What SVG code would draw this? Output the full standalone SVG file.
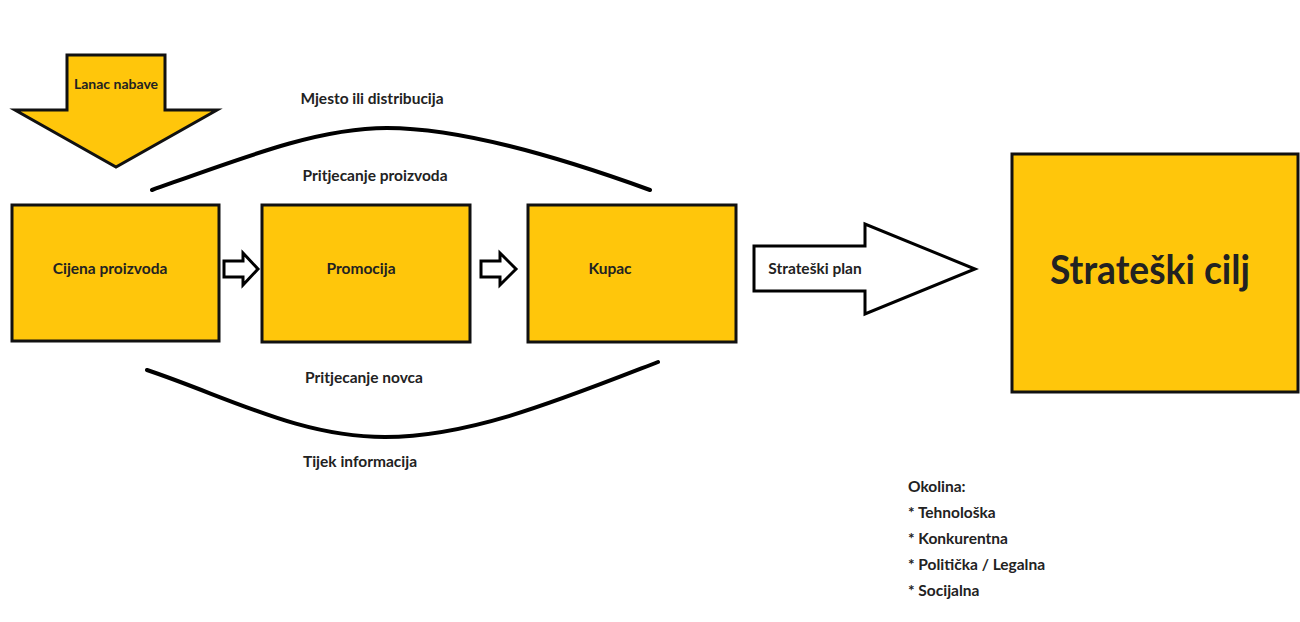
<svg xmlns="http://www.w3.org/2000/svg" width="1300" height="622" viewBox="0 0 1300 622">
<style>
.box{fill:#FFC60B;stroke:#111;stroke-width:3}
.t{font-family:Lato,"Open Sans","Liberation Sans",sans-serif;font-weight:bold;fill:#222;font-size:15.5px}
.c{text-anchor:middle}
.curve{fill:none;stroke:#000;stroke-width:4;stroke-linecap:round}
.hollow{fill:#fff;stroke:#000;stroke-width:3;stroke-linejoin:miter}
</style>
<rect width="1300" height="622" fill="#fff"/>
<g id="lanac-nabave">
<polygon points="67,55 165,55 165,110 217,110 116,167 15,110 67,110" fill="#FFC60B" stroke="#111" stroke-width="3"/>
<text class="t c" x="116" y="89" style="font-size:14px">Lanac nabave</text>
</g>
<g id="connectors">
<path class="curve" d="M152,190 C250,155 320,128 387,128 C450,128 540,150 650,190"/>
<path class="curve" d="M147,370 C230,398 300,437 385,437 C470,437 560,400 658,362"/>
<polygon class="hollow" points="224,261 243,261 243,253 258,269 243,285 243,277 224,277"/>
<polygon class="hollow" points="481,261 500,261 500,253 516,269 500,285 500,277 481,277"/>
<polygon class="hollow" points="754,246 865,246 865,224 975,269 865,314 865,291 754,291"/>
<text class="t c" x="815" y="274">Strateški plan</text>
</g>
<g id="labels">
<text class="t c" x="372" y="104">Mjesto ili distribucija</text>
<text class="t c" x="375" y="181">Pritjecanje proizvoda</text>
<text class="t c" x="364" y="383">Pritjecanje novca</text>
<text class="t c" x="360" y="467">Tijek informacija</text>
</g>
<g id="cijena-proizvoda">
<rect class="box" x="12" y="205" width="207" height="136"/>
<text class="t c" x="110" y="274">Cijena proizvoda</text>
</g>
<g id="promocija">
<rect class="box" x="262" y="205" width="208" height="137"/>
<text class="t c" x="361" y="274">Promocija</text>
</g>
<g id="kupac">
<rect class="box" x="528" y="205" width="208" height="137"/>
<text class="t c" x="610" y="274">Kupac</text>
</g>
<g id="strateski-cilj">
<rect class="box" x="1012" y="154" width="286" height="238"/>
<text class="t c" x="1150" y="284" style="font-size:40px" textLength="200" lengthAdjust="spacingAndGlyphs">Strateški cilj</text>
</g>
<g id="okolina">
<text class="t" x="908" y="492">Okolina:</text>
<text class="t" x="908" y="518">* Tehnološka</text>
<text class="t" x="908" y="544">* Konkurentna</text>
<text class="t" x="908" y="570">* Politička / Legalna</text>
<text class="t" x="908" y="596">* Socijalna</text>
</g>
</svg>
